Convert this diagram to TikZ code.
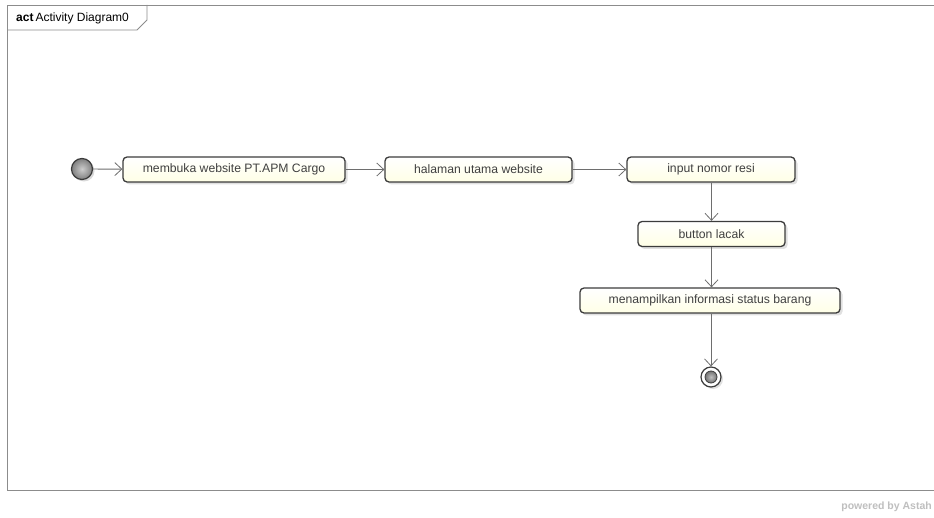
\documentclass[tikz,border=0pt]{standalone}
\usepackage{fontspec}
\setmainfont{Liberation Sans}
\usetikzlibrary{arrows.meta,shadows}
\definecolor{actfill}{HTML}{FFFFE6}
\definecolor{edgec}{HTML}{3C3C3C}
\definecolor{linec}{HTML}{6E6E6E}
\definecolor{framec}{HTML}{8C8C8C}
\begin{document}
\begin{tikzpicture}[x=1pt,y=-1pt,
  action/.style={draw=edgec, line width=1.3pt, rounded corners=4pt,
    top color=white, bottom color=actfill, inner sep=0pt,
    minimum height=25pt, font=\fontsize{12.2}{14}\selectfont, text=black!75,
    drop shadow={shadow xshift=2.5pt, shadow yshift=-2.5pt, fill=black!12, opacity=1}},
  flow/.style={draw=linec, line width=0.9pt, -{Straight Barb[length=7pt,width=13pt,line width=0.8pt]}}
  ]
\useasboundingbox (0,0) rectangle (934,518);
\fill[white] (0,0) rectangle (934,518);
% frame
\draw[framec, line width=0.8pt] (940,5) -- (7,5) -- (7,490) -- (940,490);
\draw[framec, line width=0.8pt] (7,30) -- (137,30) -- (147,20) -- (147,5);
\node[anchor=west, inner sep=0pt, font=\fontsize{12}{14}\selectfont] (title) at (16,18) {\textbf{act}\,Activity Diagram0};
% nodes
\node[action, minimum width=222pt] (a1) at (234,169.5) {membuka website PT.APM Cargo};
\node[action, minimum width=187pt] (a2) at (478.5,169.5) {halaman utama website};
\node[action, minimum width=168pt] (a3) at (711,169.5) {input nomor resi};
\node[action, minimum width=147pt] (a4) at (711.5,234) {button lacak};
\node[action, minimum width=260pt] (a5) at (710,300.5) {menampilkan informasi status barang};
\fill[black!15] (84,171) circle (10.5pt);
\node[circle, draw=edgec, line width=1.2pt, minimum size=21pt, inner sep=0pt,
  inner color=black!20, outer color=black!50] (init) at (82,169) {};
\fill[black!12] (713,379) circle (10pt);
\node[circle, draw=edgec, line width=1.2pt, minimum size=20pt, inner sep=0pt, fill=white] (fin) at (711,377) {};
\node[circle, draw=edgec, line width=0.8pt, minimum size=12pt, inner sep=0pt,
  inner color=black!25, outer color=black!55] (finin) at (711,377) {};
% edges
\draw[flow] (init) -- (a1);
\draw[flow] (a1) -- (a2);
\draw[flow] (a2) -- (a3);
\draw[flow] (a3.south -| a4.north) -- (a4.north);
\draw[flow] (a4) -- (a5.north -| a4.south);
\draw[flow] (a5.south -| fin.north) -- (fin);
% footer
\node[anchor=east, inner sep=0pt, text=black!25, font=\fontsize{10.5}{12}\selectfont\bfseries] (pw) at (932,507) {powered by Astah};
\end{tikzpicture}
\end{document}
